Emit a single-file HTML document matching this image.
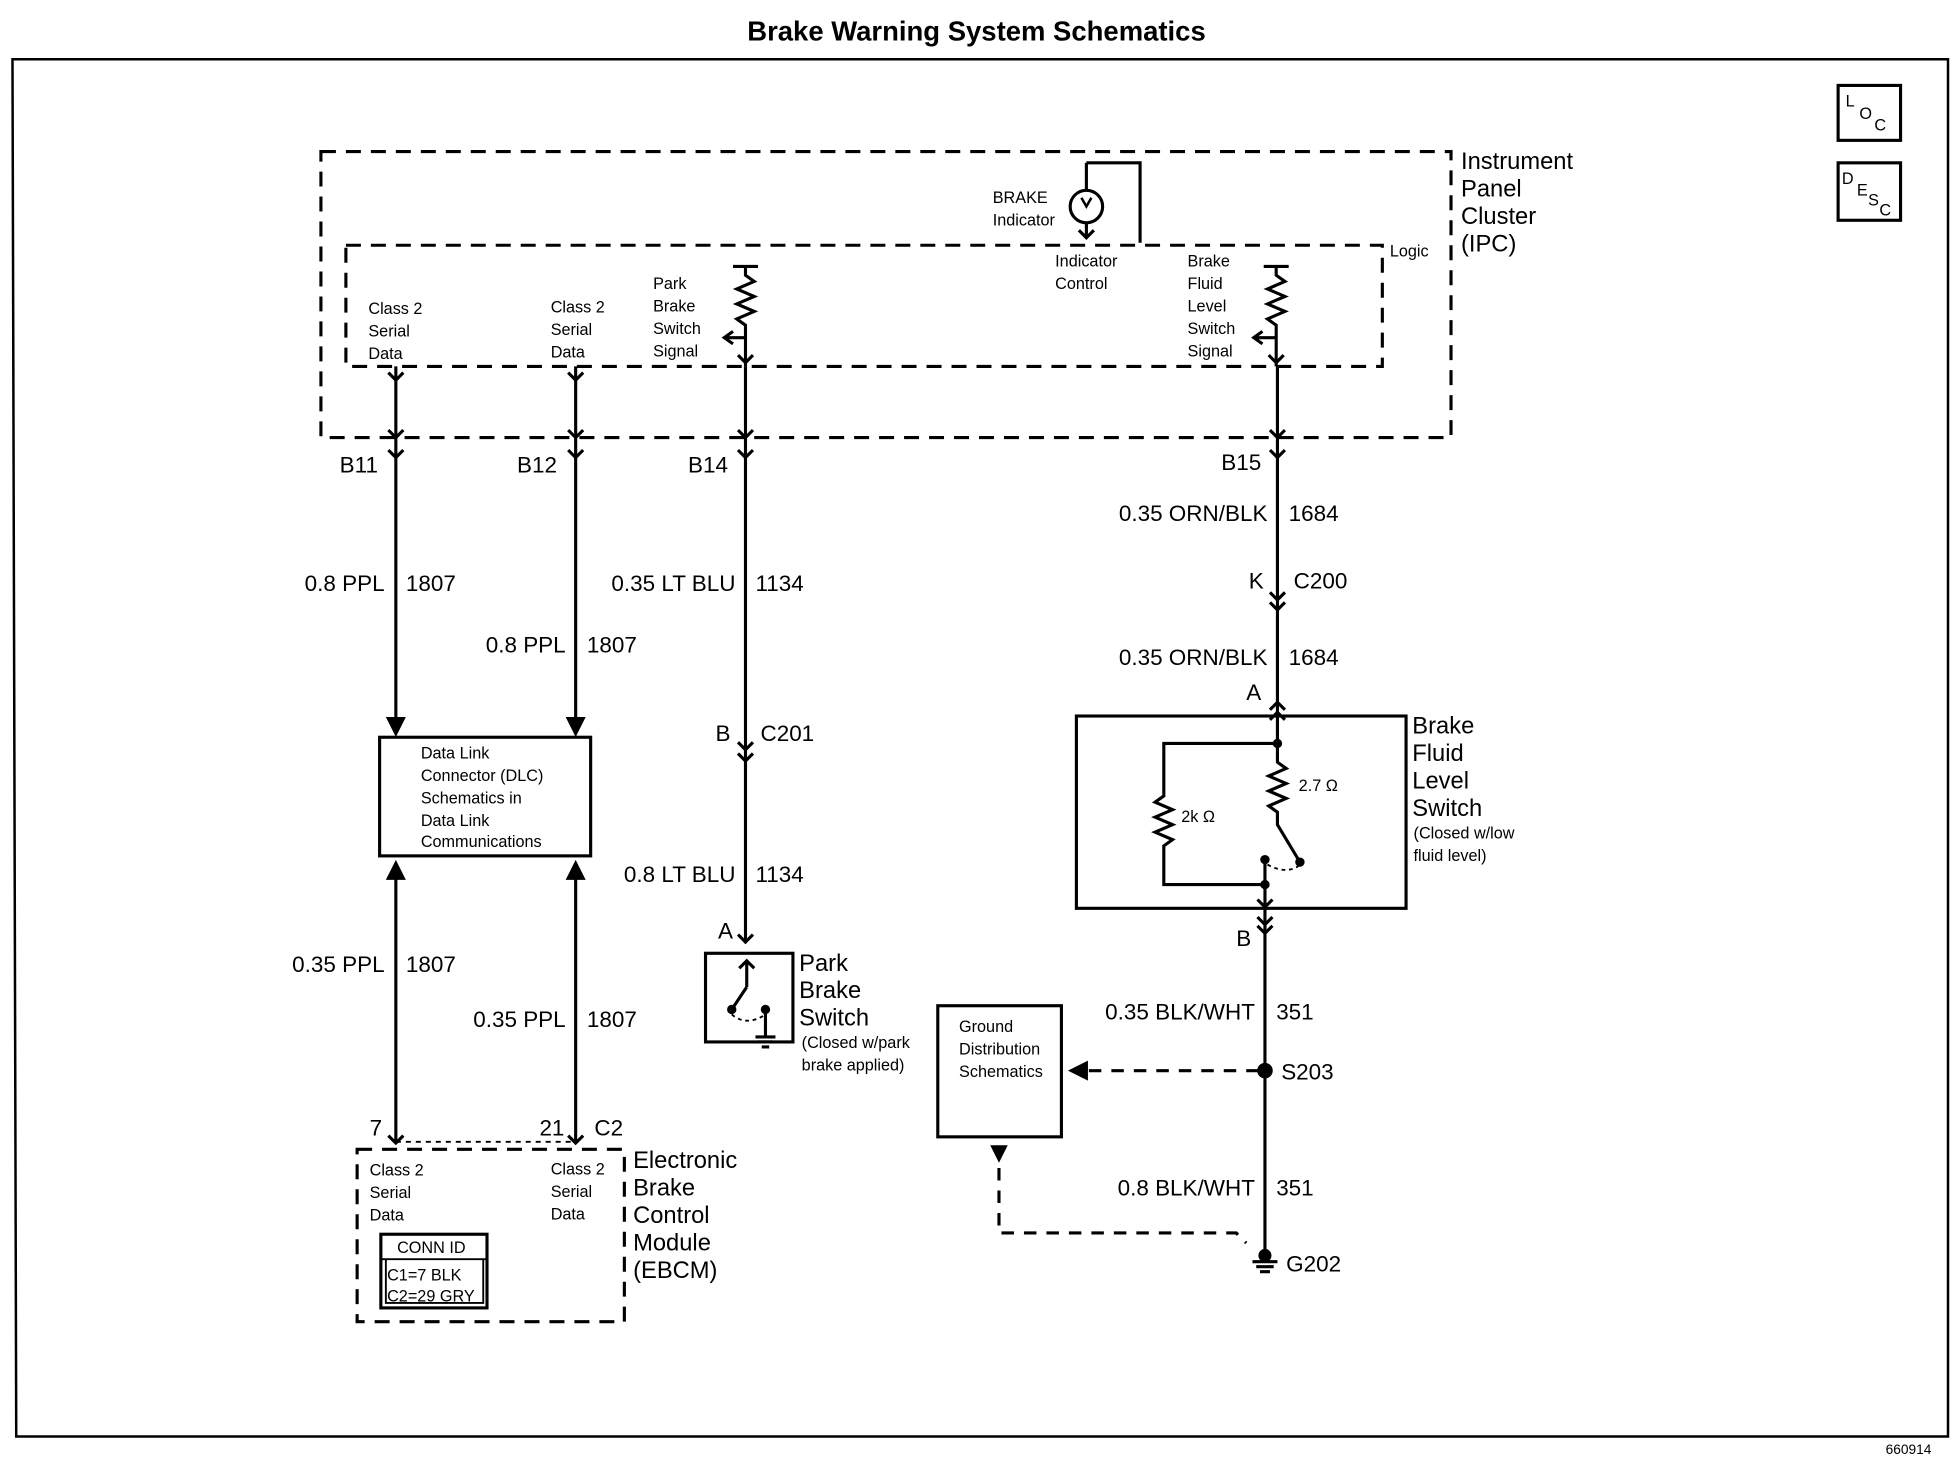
<!DOCTYPE html>
<html><head><meta charset="utf-8"><style>
html,body{margin:0;padding:0;background:#fff}
svg{display:block}
text{font-family:"Liberation Sans",Arial,sans-serif;fill:#000}
.s{font-size:13px}
.m{font-size:19px}
.w{font-size:18px}
</style></head><body>
<svg width="1958" height="1472" viewBox="0 0 1568 1178" xmlns="http://www.w3.org/2000/svg">
<g fill="none" stroke="#000" stroke-width="2.5">
<text x="782" y="32" text-anchor="middle" style="font-size:22px;font-weight:bold" stroke="none">Brake Warning System Schematics</text>
<path d="M10 47 L1560 47 L1560 1150 L13 1150 Z" stroke-width="2"/>
<rect x="1472" y="68" width="50" height="44"/>
<rect x="1472" y="130" width="50" height="46"/>
<rect x="257" y="121" width="905" height="229" stroke-dasharray="12,8"/>
<rect x="277" y="196" width="830" height="97" stroke-dasharray="12,8"/>
<!-- brake indicator -->
<circle cx="870" cy="165" r="13"/>
<path d="M870 130 L913 130 L913 194 M870 152 L870 130 M870 178 L870 190 M864 184 L870 190 L876 184"/>
<path d="M866 158 L870 165 L874 158" stroke-width="2"/>
<!-- resistors -->
<path d="M587 213 L607 213 M597 213 L597 220 L604 225 L590 231 L604 237 L590 243 L604 249 L590 255 L597 260 L597 293 M597 270 L582 270 M587 265 L580 270 L587 275"/>
<path d="M1012 213 L1032 213 M1022 213 L1022 220 L1029 225 L1015 231 L1029 237 L1015 243 L1029 249 L1015 255 L1022 260 L1022 293 M1022 270 L1006 270 M1011 265 L1004 270 L1011 275"/>
<path d="M591 284 L597 290 L603 284 M1016 284 L1022 290 L1028 284"/>
<!-- wires -->
<path d="M317 293 L317 580 M461 293 L461 580 M597 293 L597 755 M1023 293 L1023 570"/>
<path d="M311 344 L317 350 L323 344 M455 344 L461 350 L467 344 M591 344 L597 350 L603 344 M1017 344 L1023 350 L1029 344"/>
<path d="M311 360 L317 366 L323 360 M455 360 L461 366 L467 360 M591 360 L597 366 L603 360 M1017 360 L1023 366 L1029 360"/>
<path d="M311 298 L317 304 L323 298 M455 298 L461 304 L467 298"/>
<path d="M1017 474 L1023 480 L1029 474 M1017 482 L1023 488 L1029 482 M591 594 L597 600 L603 594 M591 603 L597 609 L603 603 M591 748 L597 754 L603 748"/>
<polygon points="311,575 323,575 317,587" fill="#000"/>
<polygon points="455,575 467,575 461,587" fill="#000"/>
<rect x="304" y="590" width="169" height="95"/>
<polygon points="311,703 323,703 317,691" fill="#000"/>
<polygon points="455,703 467,703 461,691" fill="#000"/>
<path d="M317 700 L317 915 M461 700 L461 915 M311 909 L317 915 L323 909 M455 909 L461 915 L467 909"/>
<path d="M317 914 L461 914" stroke-dasharray="4,4" stroke-width="1.5"/>
<rect x="286" y="920" width="214" height="138" stroke-dasharray="12,8"/>
<rect x="305" y="988" width="85" height="59"/>
<path d="M305 1008 L390 1008 M309 1008 L309 1043 L387 1043 L387 1008" stroke-width="1.5"/>
<!-- park brake switch -->
<rect x="565" y="763" width="70" height="71"/>
<path d="M598 770 L598 790 M592 775 L598 769 L604 775 M586 808 L598 790 M613 808 L613 830 M605 830 L621 830 M607 834 L619 834 M610 838 L616 838"/>
<circle cx="586" cy="808" r="2.5" fill="#000"/><circle cx="613" cy="808" r="2.5" fill="#000"/>
<path d="M586 812 Q598 822 613 812" stroke-dasharray="3,3" stroke-width="1.5"/>
<!-- brake fluid level switch -->
<rect x="862" y="573" width="264" height="154"/>
<path d="M1017 568 L1023 562 L1029 568 M1017 576 L1023 570 L1029 576 M1023 570 L1023 595 L932 595 L932 637 L925 642 L939 648 L925 654 L939 660 L925 666 L939 672 L932 677 L932 708 L1013 708 M1023 595 L1023 610 L1030 615 L1016 621 L1030 627 L1016 633 L1030 639 L1016 645 L1023 650 L1023 660 L1041 690 M1013 688 L1013 740 M1007 720 L1013 726 L1019 720"/>
<circle cx="1023" cy="595" r="2.5" fill="#000"/><circle cx="1013" cy="708" r="2.5" fill="#000"/><circle cx="1013" cy="688" r="2.5" fill="#000"/><circle cx="1041" cy="690" r="2.5" fill="#000"/>
<path d="M1015 692 Q1030 700 1040 693" stroke-dasharray="3,3" stroke-width="1.5"/>
<path d="M1007 734 L1013 740 L1019 734 M1007 741 L1013 747 L1019 741 M1013 740 L1013 1005"/>
<circle cx="1013" cy="857" r="5" fill="#000"/>
<path d="M1008 857 L868 857" stroke-dasharray="10,8"/>
<polygon points="870,851 870,863 858,857" fill="#000"/>
<rect x="751" y="805" width="99" height="105"/>
<polygon points="795,918 805,918 800,928" fill="#000"/>
<path d="M800 935 L800 987 L990 987 L998 995" stroke-dasharray="10,8"/>
<circle cx="1013" cy="1005" r="4" fill="#000"/>
<path d="M1003 1010 L1023 1010 M1006 1014 L1020 1014 M1009 1018 L1017 1018"/>
</g>
<g stroke="none">
<text x="1478" y="85" class="s">L</text><text x="1489" y="95" class="s">O</text><text x="1501" y="104" class="s">C</text>
<text x="1475" y="147" class="s">D</text><text x="1487" y="156" class="s">E</text><text x="1496" y="164" class="s">S</text><text x="1505" y="172" class="s">C</text>
<text class="m"><tspan x="1170" y="135">Instrument</tspan><tspan x="1170" y="157">Panel</tspan><tspan x="1170" y="179">Cluster</tspan><tspan x="1170" y="201">(IPC)</tspan></text>
<text x="1113" y="205" class="s">Logic</text>
<text class="s"><tspan x="795" y="162">BRAKE</tspan><tspan x="795" y="180">Indicator</tspan></text>
<text class="s"><tspan x="845" y="213">Indicator</tspan><tspan x="845" y="231">Control</tspan></text>
<text class="s"><tspan x="295" y="251">Class 2</tspan><tspan x="295" y="269">Serial</tspan><tspan x="295" y="287">Data</tspan></text>
<text class="s"><tspan x="441" y="250">Class 2</tspan><tspan x="441" y="268">Serial</tspan><tspan x="441" y="286">Data</tspan></text>
<text class="s"><tspan x="523" y="231">Park</tspan><tspan x="523" y="249">Brake</tspan><tspan x="523" y="267">Switch</tspan><tspan x="523" y="285">Signal</tspan></text>
<text class="s"><tspan x="951" y="213">Brake</tspan><tspan x="951" y="231">Fluid</tspan><tspan x="951" y="249">Level</tspan><tspan x="951" y="267">Switch</tspan><tspan x="951" y="285">Signal</tspan></text>
<text class="w" x="272" y="378">B11</text><text class="w" x="414" y="378">B12</text><text class="w" x="551" y="378">B14</text><text class="w" x="978" y="376">B15</text>
<text class="w" text-anchor="end" x="308" y="473">0.8 PPL</text><text class="w" x="325" y="473">1807</text>
<text class="w" text-anchor="end" x="453" y="522">0.8 PPL</text><text class="w" x="470" y="522">1807</text>
<text class="w" text-anchor="end" x="589" y="473">0.35 LT BLU</text><text class="w" x="605" y="473">1134</text>
<text class="w" text-anchor="end" x="1015" y="417">0.35 ORN/BLK</text><text class="w" x="1032" y="417">1684</text>
<text class="w" x="1000" y="471">K</text><text class="w" x="1036" y="471">C200</text>
<text class="w" text-anchor="end" x="1015" y="532">0.35 ORN/BLK</text><text class="w" x="1032" y="532">1684</text>
<text class="w" x="998" y="560">A</text>
<text class="w" x="573" y="593">B</text><text class="w" x="609" y="593">C201</text>
<text class="w" text-anchor="end" x="589" y="706">0.8 LT BLU</text><text class="w" x="605" y="706">1134</text>
<text class="w" x="575" y="751">A</text>
<text class="w" text-anchor="end" x="308" y="778">0.35 PPL</text><text class="w" x="325" y="778">1807</text>
<text class="w" text-anchor="end" x="453" y="822">0.35 PPL</text><text class="w" x="470" y="822">1807</text>
<text class="s"><tspan x="337" y="607">Data Link</tspan><tspan x="337" y="625">Connector (DLC)</tspan><tspan x="337" y="643">Schematics in</tspan><tspan x="337" y="661">Data Link</tspan><tspan x="337" y="678">Communications</tspan></text>
<text class="w" x="296" y="909">7</text><text class="w" x="432" y="909">21</text><text class="w" x="476" y="909">C2</text>
<text class="s"><tspan x="296" y="941">Class 2</tspan><tspan x="296" y="959">Serial</tspan><tspan x="296" y="977">Data</tspan></text>
<text class="s"><tspan x="441" y="940">Class 2</tspan><tspan x="441" y="958">Serial</tspan><tspan x="441" y="976">Data</tspan></text>
<text class="s" x="318" y="1003">CONN ID</text>
<text class="s"><tspan x="310" y="1025">C1=7 BLK</tspan><tspan x="310" y="1042">C2=29 GRY</tspan></text>
<text class="m"><tspan x="507" y="935">Electronic</tspan><tspan x="507" y="957">Brake</tspan><tspan x="507" y="979">Control</tspan><tspan x="507" y="1001">Module</tspan><tspan x="507" y="1023">(EBCM)</tspan></text>
<text class="m"><tspan x="640" y="777">Park</tspan><tspan x="640" y="799">Brake</tspan><tspan x="640" y="821">Switch</tspan></text>
<text class="s"><tspan x="642" y="839">(Closed w/park</tspan><tspan x="642" y="857">brake applied)</tspan></text>
<text class="m"><tspan x="1131" y="587">Brake</tspan><tspan x="1131" y="609">Fluid</tspan><tspan x="1131" y="631">Level</tspan><tspan x="1131" y="653">Switch</tspan></text>
<text class="s"><tspan x="1132" y="671">(Closed w/low</tspan><tspan x="1132" y="689">fluid level)</tspan></text>
<text class="s" x="1040" y="633">2.7 Ω</text><text class="s" x="946" y="658">2k Ω</text>
<text class="w" x="990" y="757">B</text>
<text class="w" text-anchor="end" x="1005" y="816">0.35 BLK/WHT</text><text class="w" x="1022" y="816">351</text>
<text class="w" x="1026" y="864">S203</text>
<text class="s"><tspan x="768" y="826">Ground</tspan><tspan x="768" y="844">Distribution</tspan><tspan x="768" y="862">Schematics</tspan></text>
<text class="w" text-anchor="end" x="1005" y="957">0.8 BLK/WHT</text><text class="w" x="1022" y="957">351</text>
<text class="w" x="1030" y="1018">G202</text>
<text x="1510" y="1164" style="font-size:11px">660914</text>
</g>
</svg>
</body></html>
